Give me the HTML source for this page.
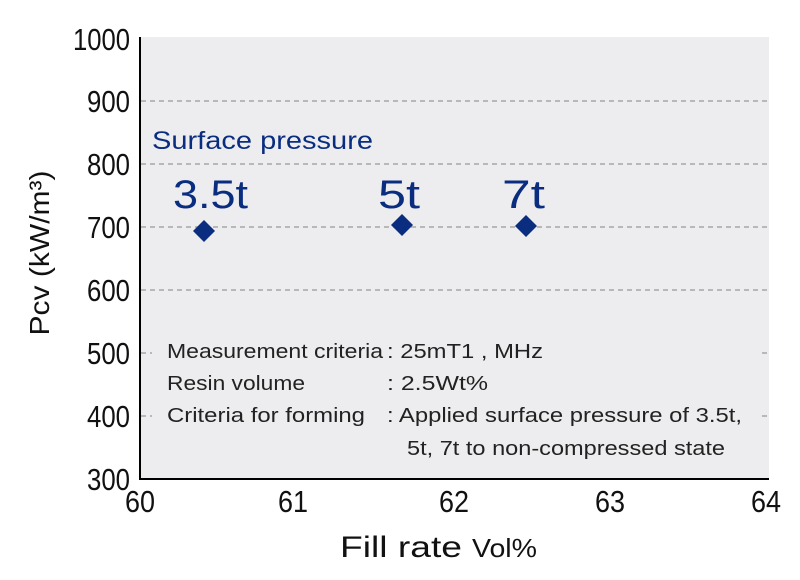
<!DOCTYPE html>
<html><head><meta charset="utf-8"><style>
html,body{margin:0;padding:0;background:#fff;}
svg{display:block;font-family:"Liberation Sans",sans-serif;}
</style></head><body>
<svg width="800" height="580" viewBox="0 0 800 580" xmlns="http://www.w3.org/2000/svg">
<rect x="140" y="37" width="629" height="442" fill="#ededef"/>
<g stroke="#999" stroke-width="1.2" stroke-dasharray="5,4">
<line x1="141" x2="769" y1="101" y2="101"/>
<line x1="141" x2="769" y1="164" y2="164"/>
<line x1="141" x2="769" y1="227" y2="227"/>
<line x1="141" x2="769" y1="290" y2="290"/>
<line x1="141" x2="769" y1="353" y2="353"/>
<line x1="141" x2="769" y1="416" y2="416"/>
</g>
<rect x="152" y="335" width="606" height="135" fill="#ededef"/>
<line x1="140" y1="37" x2="140" y2="480" stroke="#000" stroke-width="2"/>
<line x1="139" y1="479" x2="769" y2="479" stroke="#000" stroke-width="2"/>
<g font-size="31" fill="#111" text-anchor="end" lengthAdjust="spacingAndGlyphs">
<text x="130" y="50" textLength="57" lengthAdjust="spacingAndGlyphs">1000</text>
<text x="130" y="112" textLength="43" lengthAdjust="spacingAndGlyphs">900</text>
<text x="130" y="175" textLength="43" lengthAdjust="spacingAndGlyphs">800</text>
<text x="130" y="238" textLength="43" lengthAdjust="spacingAndGlyphs">700</text>
<text x="130" y="301" textLength="43" lengthAdjust="spacingAndGlyphs">600</text>
<text x="130" y="364" textLength="43" lengthAdjust="spacingAndGlyphs">500</text>
<text x="130" y="427" textLength="43" lengthAdjust="spacingAndGlyphs">400</text>
<text x="130" y="490" textLength="43" lengthAdjust="spacingAndGlyphs">300</text>
</g>
<g font-size="31" fill="#111" text-anchor="middle">
<text x="140" y="512" textLength="30" lengthAdjust="spacingAndGlyphs">60</text>
<text x="293" y="512" textLength="30" lengthAdjust="spacingAndGlyphs">61</text>
<text x="454" y="512" textLength="30" lengthAdjust="spacingAndGlyphs">62</text>
<text x="610" y="512" textLength="30" lengthAdjust="spacingAndGlyphs">63</text>
<text x="766" y="512" textLength="30" lengthAdjust="spacingAndGlyphs">64</text>
</g>
<text x="340" y="557" font-size="30" fill="#111" textLength="122" lengthAdjust="spacingAndGlyphs">Fill rate</text>
<text x="472" y="557" font-size="26" fill="#111" textLength="65" lengthAdjust="spacingAndGlyphs">Vol%</text>
<text transform="translate(49,253) rotate(-90)" text-anchor="middle" font-size="28" fill="#111" textLength="165" lengthAdjust="spacingAndGlyphs">Pcv (kW/m³)</text>
<text x="152" y="149" font-size="25" fill="#0a2d80" textLength="221" lengthAdjust="spacingAndGlyphs">Surface pressure</text>
<g font-size="40" fill="#0a2d80">
<text x="173" y="208" textLength="75" lengthAdjust="spacingAndGlyphs">3.5t</text>
<text x="378" y="208" textLength="42" lengthAdjust="spacingAndGlyphs">5t</text>
<text x="502" y="208" textLength="43" lengthAdjust="spacingAndGlyphs">7t</text>
</g>
<g fill="#0a2d80">
<polygon points="204,220 215,231 204,242 193,231"/>
<polygon points="402,214 413,225 402,236 391,225"/>
<polygon points="526,215 537,226 526,237 515,226"/>
</g>
<g font-size="20" fill="#222">
<text x="167" y="358" textLength="216" lengthAdjust="spacingAndGlyphs">Measurement criteria</text>
<text x="387" y="358" textLength="156" lengthAdjust="spacingAndGlyphs">: 25mT1 , MHz</text>
<text x="167" y="390" textLength="138" lengthAdjust="spacingAndGlyphs">Resin volume</text>
<text x="387" y="390" textLength="101" lengthAdjust="spacingAndGlyphs">: 2.5Wt%</text>
<text x="167" y="422" textLength="198" lengthAdjust="spacingAndGlyphs">Criteria for forming</text>
<text x="387" y="422" textLength="355" lengthAdjust="spacingAndGlyphs">: Applied surface pressure of 3.5t,</text>
<text x="407" y="455" textLength="318" lengthAdjust="spacingAndGlyphs">5t, 7t to non-compressed state</text>
</g>
</svg>
</body></html>
